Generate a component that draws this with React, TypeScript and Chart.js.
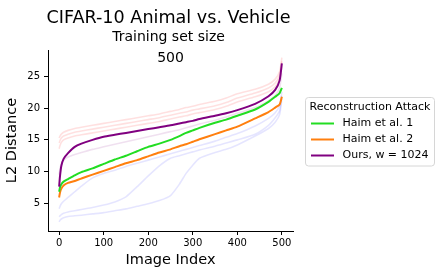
import React, { useEffect, useRef } from "react";
import { Chart, registerables } from "chart.js";

Chart.register(...registerables);

const imageIndex = [0, 2, 5, 10, 20, 35, 50, 75, 100, 125, 150, 175, 200, 225, 250, 270, 285, 300, 315, 350, 375, 400, 440, 470, 485, 495, 500];

const haim1 = [6.8, 7.5, 8.0, 8.4, 8.8, 9.4, 9.9, 10.5, 11.2, 11.9, 12.5, 13.2, 13.9, 14.4, 15.0, 15.6, 16.1, 16.5, 16.9, 17.7, 18.2, 18.8, 19.8, 21.0, 21.8, 22.4, 23.2];
const haim2 = [5.9, 6.7, 7.3, 7.8, 8.2, 8.5, 8.9, 9.5, 10.1, 10.7, 11.3, 11.8, 12.4, 13.0, 13.5, 14.0, 14.3, 14.7, 15.1, 15.9, 16.5, 17.1, 18.4, 19.4, 20.1, 20.6, 21.8];
const ours1024 = [7.6, 9.3, 10.9, 12.0, 12.9, 13.9, 14.4, 15.0, 15.5, 15.8, 16.1, 16.4, 16.7, 17.0, 17.3, 17.6, 17.8, 18.0, 18.3, 18.8, 19.2, 19.7, 20.7, 21.9, 22.9, 24.4, 27.1];

const faintRed1 = [15.3, 15.6, 15.9, 16.2, 16.5, 16.8, 17.0, 17.3, 17.6, 17.9, 18.2, 18.5, 18.8, 19.1, 19.5, 19.8, 20.1, 20.3, 20.6, 21.1, 21.6, 22.3, 23.0, 23.8, 24.6, 25.8, 28.0];
const faintRed2 = [14.5, 14.9, 15.3, 15.6, 15.9, 16.2, 16.4, 16.7, 17.0, 17.3, 17.6, 17.9, 18.2, 18.5, 18.9, 19.2, 19.4, 19.7, 19.9, 20.4, 20.9, 21.6, 22.4, 23.2, 24.0, 25.2, 27.4];
const faintRed3 = [13.6, 14.1, 14.6, 15.0, 15.3, 15.6, 15.8, 16.1, 16.4, 16.7, 17.0, 17.3, 17.6, 17.9, 18.3, 18.6, 18.8, 19.1, 19.3, 19.8, 20.3, 21.0, 21.8, 22.6, 23.4, 24.6, 26.6];
const faintPurple1 = [9.5, 10.5, 11.2, 11.8, 12.3, 12.7, 13.0, 13.5, 13.9, 14.3, 14.7, 15.1, 15.5, 15.9, 16.3, 16.6, 16.9, 17.2, 17.5, 18.1, 18.6, 19.2, 20.1, 21.2, 22.0, 23.2, 25.5];
const faintBlue1 = [4.1, 4.5, 4.9, 5.3, 5.9, 6.8, 7.7, 9.0, 9.7, 10.2, 10.8, 11.3, 11.8, 12.3, 12.8, 13.2, 13.5, 13.8, 14.1, 14.8, 15.4, 16.0, 17.2, 18.4, 19.3, 20.4, 22.6];
const faintBlue2 = [2.85, 3.0, 3.2, 3.4, 3.6, 3.8, 4.0, 4.3, 4.7, 5.2, 6.0, 7.6, 9.3, 10.9, 12.1, 12.5, 12.8, 13.1, 13.4, 14.0, 14.5, 15.0, 15.9, 17.3, 18.5, 19.6, 22.0];
const faintBlue3 = [2.05, 2.3, 2.5, 2.7, 2.9, 3.0, 3.1, 3.3, 3.5, 3.8, 4.1, 4.5, 4.9, 5.4, 6.2, 8.0, 9.7, 11.0, 12.1, 13.0, 13.5, 14.2, 15.6, 16.8, 17.8, 19.0, 21.5];

const xTicks = [0, 100, 200, 300, 400, 500];
const yTicks = [5, 10, 15, 20, 25];

const legendTitle = "Reconstruction Attack";
const legendOrder = ["Haim et al. 1", "Haim et al. 2", "Ours, w = 1024"];
const chartTitle = "CIFAR-10 Animal vs. Vehicle";
const subtitleLines = ["Training set size", "500"];

const FONT = "'DejaVu Sans', sans-serif";

const pts = (vals: number[]) => vals.map((v, i) => ({ x: imageIndex[i], y: v }));

const titlesAndLegend = {
  id: "titlesAndLegend",
  afterDraw(chart: any) {
    const ctx = chart.ctx;
    const area = chart.chartArea;
    const cx = (area.left + area.right) / 2;
    ctx.save();
    ctx.fillStyle = "#000";
    ctx.textAlign = "center";
    ctx.textBaseline = "alphabetic";
    ctx.font = `17.6px ${FONT}`;
    ctx.fillText(chartTitle, cx - 2, 23);
    ctx.font = `14px ${FONT}`;
    ctx.fillText(subtitleLines[0], cx - 2, 41);
    ctx.fillText(subtitleLines[1], cx, 61.5);

    // legend
    const bx = 305.5, by = 97.5, bw = 129, bh = 68.5, r = 3;
    ctx.beginPath();
    ctx.moveTo(bx + r, by);
    ctx.lineTo(bx + bw - r, by);
    ctx.arcTo(bx + bw, by, bx + bw, by + r, r);
    ctx.lineTo(bx + bw, by + bh - r);
    ctx.arcTo(bx + bw, by + bh, bx + bw - r, by + bh, r);
    ctx.lineTo(bx + r, by + bh);
    ctx.arcTo(bx, by + bh, bx, by + bh - r, r);
    ctx.lineTo(bx, by + r);
    ctx.arcTo(bx, by, bx + r, by, r);
    ctx.closePath();
    ctx.fillStyle = "rgba(255,255,255,0.8)";
    ctx.fill();
    ctx.strokeStyle = "#d6d6d6";
    ctx.lineWidth = 1;
    ctx.stroke();

    ctx.fillStyle = "#000";
    ctx.font = `11px ${FONT}`;
    ctx.textAlign = "center";
    ctx.textBaseline = "middle";
    ctx.fillText(legendTitle, bx + bw / 2, 107.5);
    const items = legendOrder
      .map((name) => chart.data.datasets.find((d: any) => d.showInLegend && d.label === name))
      .filter(Boolean);
    items.forEach((d: any, i: number) => {
      const y = 123.5 + i * 16;
      ctx.strokeStyle = d.borderColor;
      ctx.lineWidth = 2;
      ctx.beginPath();
      ctx.moveTo(311, y);
      ctx.lineTo(334, y);
      ctx.stroke();
      ctx.textAlign = "left";
      ctx.fillText(d.label, 342.5, y);
    });
    ctx.restore();
  },
};

export default function App() {
  const ref = useRef<HTMLCanvasElement | null>(null);
  useEffect(() => {
    if (!ref.current) return;
    const main = (label: string, vals: number[], color: string) => ({
      label,
      data: pts(vals),
      borderColor: color,
      backgroundColor: color,
      borderWidth: 2,
      pointRadius: 0,
      tension: 0.2,
      showInLegend: true,
    });
    const faint = (vals: number[], color: string) => ({
      label: "",
      data: pts(vals),
      borderColor: color,
      borderWidth: 1.6,
      pointRadius: 0,
      tension: 0.2,
      showInLegend: false,
    });
    const chart = new Chart(ref.current, {
      type: "line",
      data: {
        datasets: [
          main("Ours, w = 1024", ours1024, "#800080"),
          main("Haim et al. 1", haim1, "#22dd22"),
          main("Haim et al. 2", haim2, "#ff7f0e"),
          faint(faintRed1, "rgba(255,0,0,0.12)"),
          faint(faintRed2, "rgba(255,0,0,0.12)"),
          faint(faintRed3, "rgba(255,0,0,0.12)"),
          faint(faintPurple1, "rgba(128,0,128,0.12)"),
          faint(faintBlue1, "rgba(0,0,255,0.10)"),
          faint(faintBlue2, "rgba(0,0,255,0.10)"),
          faint(faintBlue3, "rgba(0,0,255,0.10)"),
        ] as any,
      },
      options: {
        animation: false,
        responsive: false,
        devicePixelRatio: 1,
        layout: { padding: { top: 50, right: 149, bottom: 0, left: 0 } },
        plugins: { legend: { display: false }, tooltip: { enabled: false }, title: { display: false } },
        scales: {
          x: {
            type: "linear",
            min: -25,
            max: 525,
            afterBuildTicks: (s: any) => { s.ticks = xTicks.map((v) => ({ value: v })); },
            afterFit: (s: any) => { s.height = 46; },
            grid: { display: true, drawOnChartArea: false, drawTicks: true, tickLength: 4, color: "#000", tickWidth: 1 },
            border: { display: true, color: "#000", width: 1 },
            ticks: { color: "#000", font: { family: FONT, size: 10 }, padding: 2, maxRotation: 0 },
            title: { display: true, text: "Image Index", color: "#000", font: { family: FONT, size: 14.5 }, padding: { top: 0, bottom: 8 } },
          },
          y: {
            type: "linear",
            min: 0.6,
            max: 29.2,
            afterBuildTicks: (s: any) => { s.ticks = yTicks.map((v) => ({ value: v })); },
            afterFit: (s: any) => { s.width = 48; },
            grid: { display: true, drawOnChartArea: false, drawTicks: true, tickLength: 4, color: "#000", tickWidth: 1 },
            border: { display: true, color: "#000", width: 1 },
            ticks: { color: "#000", font: { family: FONT, size: 10 }, padding: 4 },
            title: { display: true, text: "L2 Distance", color: "#000", font: { family: FONT, size: 14.5 }, padding: { top: 4, bottom: 0 } },
          },
        },
      } as any,
      plugins: [titlesAndLegend],
    });
    return () => chart.destroy();
  }, []);
  return (
    <div style={{ position: "fixed", left: 0, top: 0, width: 442, height: 277, background: "#fff" }}>
      <canvas ref={ref} width={442} height={277} style={{ display: "block" }} />
    </div>
  );
}
